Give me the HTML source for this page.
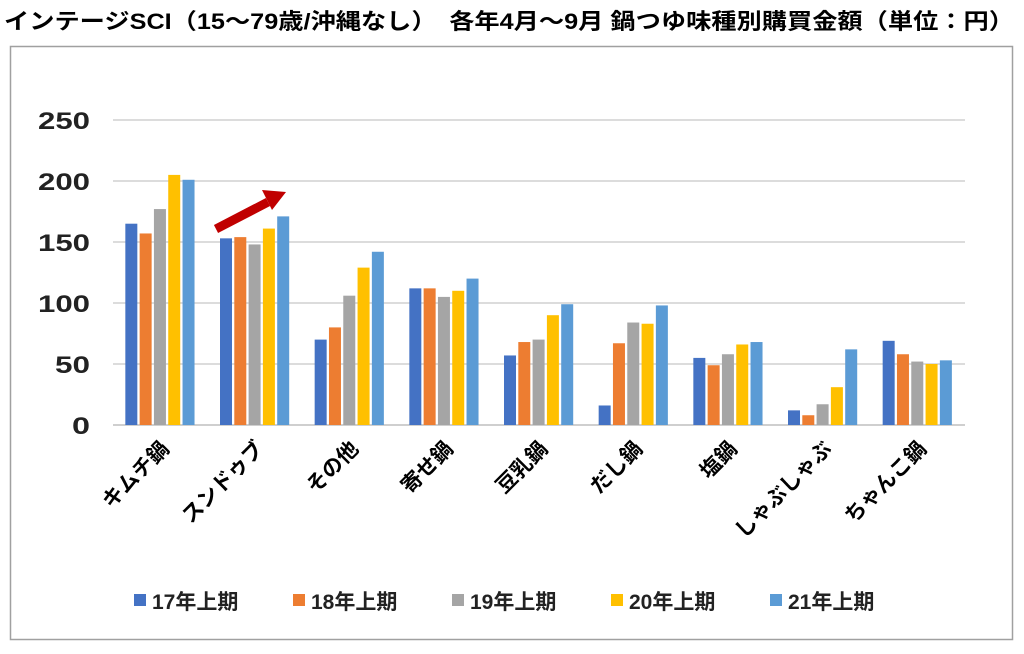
<!DOCTYPE html>
<html><head><meta charset="utf-8"><style>
body{margin:0;background:#fff;width:1024px;height:649px;overflow:hidden}
</style></head><body>
<svg width="1024" height="649" xmlns="http://www.w3.org/2000/svg" font-family="'Liberation Sans','Noto Sans CJK JP',sans-serif">
<text x="4" y="29" font-size="22" font-weight="bold" fill="#000" textLength="1010" lengthAdjust="spacingAndGlyphs">インテージSCI（15～79歳/沖縄なし）　各年4月～9月  鍋つゆ味種別購買金額（単位：円）</text>
<rect x="10.5" y="46.5" width="1002" height="593" fill="#fff" stroke="#a0a0a0" stroke-width="1.5"/>
<g stroke="#d0d0d0" stroke-width="1.5">
<line x1="113" x2="965" y1="120" y2="120"/><line x1="113" x2="965" y1="181" y2="181"/>
<line x1="113" x2="965" y1="242" y2="242"/><line x1="113" x2="965" y1="303" y2="303"/>
<line x1="113" x2="965" y1="364" y2="364"/>
</g>
<line x1="113" x2="965" y1="425" y2="425" stroke="#bfbfbf" stroke-width="1.5"/>
<g font-size="24" font-weight="bold" fill="#222">
<text x="38" y="129" textLength="52" lengthAdjust="spacingAndGlyphs">250</text>
<text x="38" y="190" textLength="52" lengthAdjust="spacingAndGlyphs">200</text>
<text x="38" y="251" textLength="52" lengthAdjust="spacingAndGlyphs">150</text>
<text x="38" y="312" textLength="52" lengthAdjust="spacingAndGlyphs">100</text>
<text x="55" y="373" textLength="35" lengthAdjust="spacingAndGlyphs">50</text>
<text x="72" y="434" textLength="18" lengthAdjust="spacingAndGlyphs">0</text>
</g>
<g id="bars"></g>
<path d="M216 229 L268 202" stroke="#C00000" stroke-width="9" fill="none"/>
<polygon points="286,192 262,190 272,210" fill="#C00000"/>
<g id="labels" font-size="21" font-weight="bold" fill="#000" text-anchor="end"></g>
<g font-size="21" font-weight="bold" fill="#222">
<rect x="134" y="594" width="12" height="12" fill="#4472C4"/><text x="152" y="609">17年上期</text>
<rect x="293" y="594" width="12" height="12" fill="#ED7D31"/><text x="311" y="609">18年上期</text>
<rect x="452" y="594" width="12" height="12" fill="#A5A5A5"/><text x="470" y="609">19年上期</text>
<rect x="611" y="594" width="12" height="12" fill="#FFC000"/><text x="629" y="609">20年上期</text>
<rect x="770" y="594" width="12" height="12" fill="#5B9BD5"/><text x="788" y="609">21年上期</text>
</g>
</svg>
<script>
var d=[["キムチ鍋",[165,157,177,205,201]],["スンドゥブ",[153,154,148,161,171]],["その他",[70,80,106,129,142]],["寄せ鍋",[112,112,105,110,120]],["豆乳鍋",[57,68,70,90,99]],["だし鍋",[16,67,84,83,98]],["塩鍋",[55,49,58,66,68]],["しゃぶしゃぶ",[12,8,17,31,62]],["ちゃんこ鍋",[69,58,52,50,53]]];
var c=["#4472C4","#ED7D31","#A5A5A5","#FFC000","#5B9BD5"];
var ns="http://www.w3.org/2000/svg",b=document.getElementById("bars"),l=document.getElementById("labels");
var gw=(965-113)/9;
d.forEach(function(g,i){var cx=113+gw*(i+0.5);
g[1].forEach(function(v,j){var r=document.createElementNS(ns,"rect");var h=v*1.22;
r.setAttribute("x",cx-35+j*14.3);r.setAttribute("y",425-h);r.setAttribute("width",12);r.setAttribute("height",h);r.setAttribute("fill",c[j]);b.appendChild(r);});
var t=document.createElementNS(ns,"text");t.setAttribute("transform","translate("+(cx+10)+",450) rotate(-45)");t.textContent=g[0];l.appendChild(t);});
</script>
</body></html>
